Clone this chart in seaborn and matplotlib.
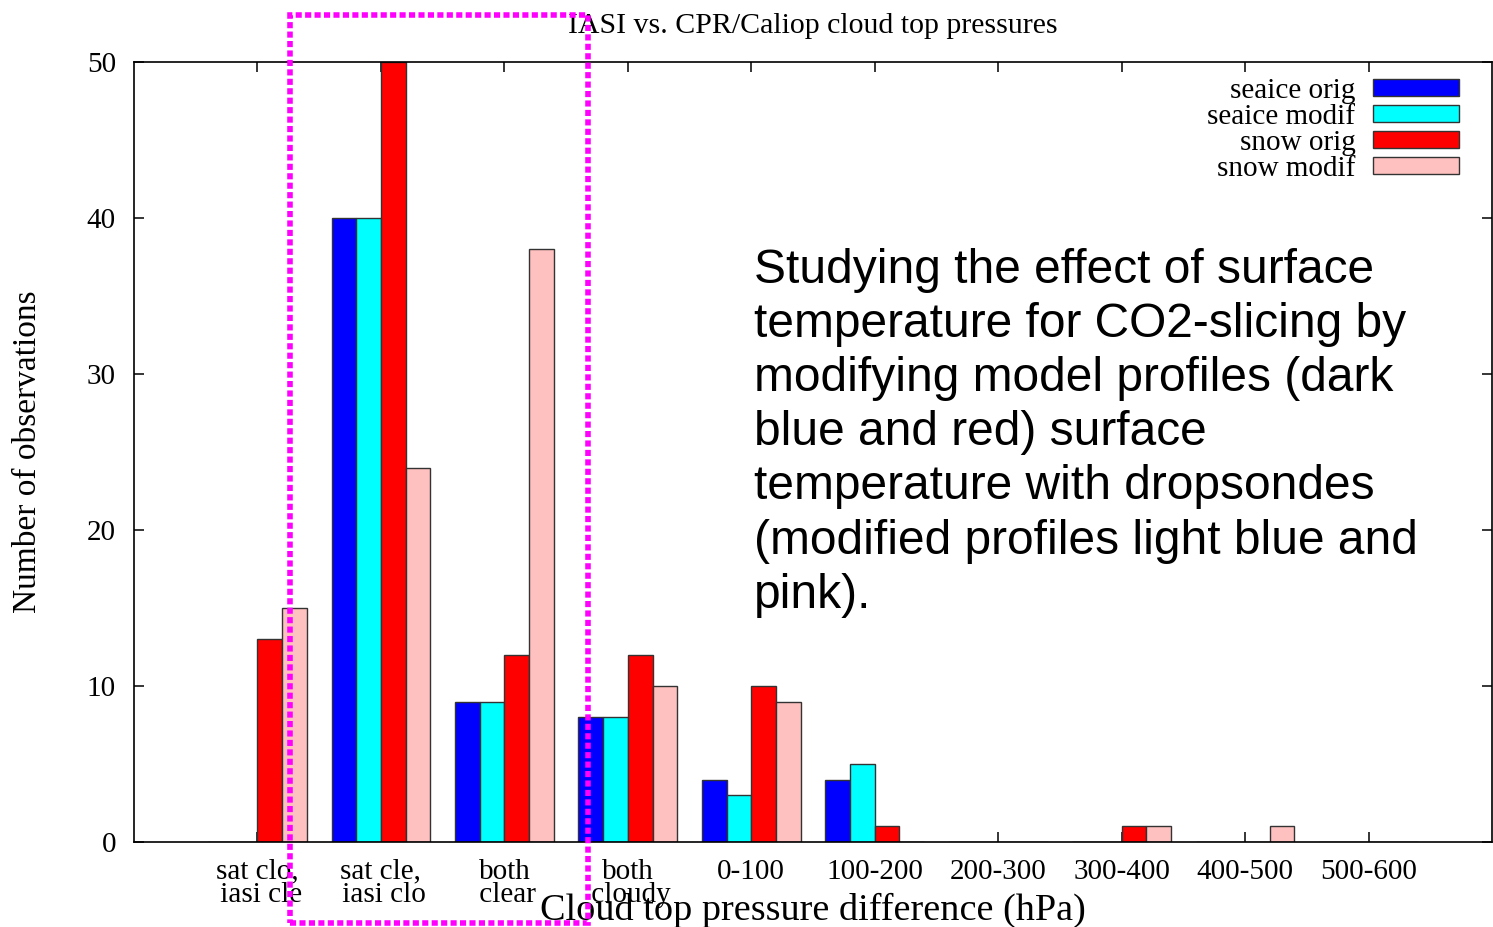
import pandas as pd
import seaborn as sns
import matplotlib.pyplot as plt
from matplotlib.patches import Rectangle

# categories on the x axis
categories = ["sat clo,\n iasi cle", "sat cle,\n iasi clo", "both\n clear", "both\n cloudy",
              "0-100", "100-200", "200-300", "300-400", "400-500", "500-600"]
series = ["seaice orig", "seaice modif", "snow orig", "snow modif"]

seaice_orig = [0, 40, 9, 8, 4, 4, 0, 0, 0, 0]
seaice_modif = [0, 40, 9, 8, 3, 5, 0, 0, 0, 0]
snow_orig = [13, 50, 12, 12, 10, 1, 0, 1, 0, 0]
snow_modif = [15, 24, 38, 10, 9, 0, 0, 1, 1, 0]

colors = {"seaice orig": "#0000ff", "seaice modif": "#00ffff",
          "snow orig": "#ff0000", "snow modif": "#ffc0c0"}

note = ("Studying the effect of surface\n"
        "temperature for CO2-slicing by\n"
        "modifying model profiles (dark\n"
        "blue and red) surface\n"
        "temperature with dropsondes\n"
        "(modified profiles light blue and\n"
        "pink).")

# long form table for seaborn
rows = []
for name, vals in zip(series, [seaice_orig, seaice_modif, snow_orig, snow_modif]):
    for cat, v in zip(categories, vals):
        rows.append({"category": cat, "series": name, "count": v})
df = pd.DataFrame(rows)

sns.set_style("ticks")
plt.rcParams["font.family"] = ["Liberation Serif", "DejaVu Serif"]
for k in ["text.color", "axes.labelcolor", "xtick.color", "ytick.color"]:
    plt.rcParams[k] = "black"

W, H = 1493, 927
fig = plt.figure(figsize=(W / 100, H / 100), dpi=100)
ax = fig.add_axes([134 / W, (H - 842) / H, (1492 - 134) / W, (842 - 62) / H])

sns.barplot(data=df, x="category", y="count", hue="series", order=categories,
            hue_order=series, palette=colors, width=0.8, saturation=1,
            edgecolor="#333333", linewidth=1.0, errorbar=None, ax=ax)

ax.set_xlim(-1, 10)
ax.set_ylim(0, 50)
ax.set_yticks(range(0, 51, 10))
ax.set_axisbelow(True)
for s in ax.spines.values():
    s.set_visible(True)
    s.set_linewidth(1.2)
    s.set_color("black")
ax.tick_params(axis="both", direction="in", length=7, width=1.1,
               top=True, right=True, labelsize=21, colors="black")
ax.tick_params(axis="x", pad=12)
ax.tick_params(axis="y", pad=13)
plt.setp(ax.get_xticklabels(), linespacing=0.85)

ax.set_title("IASI vs. CPR/Caliop cloud top pressures", fontsize=21.5, y=1.037, pad=0)
ax.set_xlabel("Cloud top pressure difference (hPa)", fontsize=27.5)
ax.xaxis.label.set_va("center")
ax.xaxis.set_label_coords(0.5, (842 - 910) / 780)
ax.set_ylabel("Number of observations", fontsize=24)
ax.yaxis.label.set_va("center")
ax.yaxis.set_label_coords((28 - 134) / 1358, 0.5)

ax.legend(loc="upper right", bbox_to_anchor=(1459 / W, 1 - 78 / H),
          bbox_transform=fig.transFigure, frameon=False, markerfirst=False,
          fontsize=21, borderpad=0, borderaxespad=0, handlelength=2.95,
          handleheight=0.5, handletextpad=0.6, labelspacing=0.0)

fig.text(754 / W, 1 - 248 / H, note, ha="left", va="top", fontsize=34.5,
         family=["Liberation Sans", "DejaVu Sans"], linespacing=1.26, color="black")

# dotted highlight box
fig.add_artist(Rectangle((290 / W, 1 - 923 / H), (588 - 290) / W, (923 - 15) / H,
                         transform=fig.transFigure, fill=False, edgecolor="#ff00ff",
                         linewidth=4, linestyle=(0, (1.1, 0.6)), clip_on=False))

fig.savefig("out.png", dpi=100)
